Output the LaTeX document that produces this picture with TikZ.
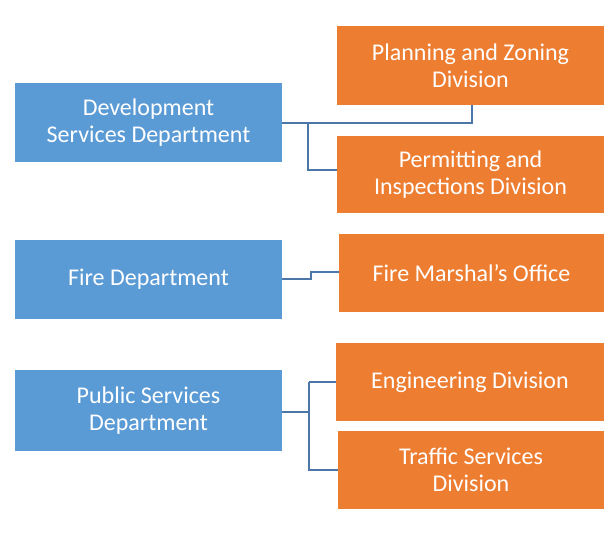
\documentclass[tikz,border=0pt]{standalone}
\usepackage{fontspec}
\setmainfont{Carlito}
\definecolor{bl}{HTML}{5B9BD5}
\definecolor{og}{HTML}{ED7D31}
\definecolor{ln}{HTML}{4A76A8}
\begin{document}
\begin{tikzpicture}[x=0.75pt,y=-0.75pt,
  box/.style={inner sep=0,align=center,text=white,font=\fontsize{18}{20}\selectfont},
  conn/.style={draw=ln,line width=1.3pt}]
\useasboundingbox (0,0) rectangle (614,547);
\fill[white] (0,0) rectangle (614,547);
\fill[bl] (15,83) rectangle (282,162);
\node[box] (dev) at (148.5,122.5) {Development\\Services Department};
\fill[bl] (15,240) rectangle (282,319);
\node[box] (fire) at (148.5,279.5) {Fire Department};
\fill[bl] (15,370) rectangle (282,451);
\node[box] (pub) at (148.5,410.5) {Public Services\\Department};
\fill[og] (337,26) rectangle (604,105);
\node[box] (plan) at (470.5,65.5) {Planning and Zoning\\Division};
\fill[og] (337,136) rectangle (604,213);
\node[box] (perm) at (470.5,174.5) {Permitting and\\Inspections Division};
\fill[og] (339,234) rectangle (604,312);
\node[box] (fm) at (471.5,273) {Fire Marshal's Office};
\fill[og] (336,343) rectangle (604,421);
\node[box] (eng) at (470,382) {Engineering Division};
\fill[og] (338,431) rectangle (604,509);
\node[box] (tr) at (471,470) {Traffic Services\\Division};
\coordinate (d0) at (282,123);
\draw[conn] (d0) -- (472,123) -- (472,105);
\draw[conn] (308,123) -- (308,170) -- (337,170);
\draw[conn] (282,279) -- (311,279) -- (311,272) -- (339,272);
\draw[conn] (282,412) -- (309,412);
\draw[conn] (309,382) -- (336,382);
\draw[conn] (309,382) -- (309,470) -- (338,470);
\end{tikzpicture}
\end{document}
